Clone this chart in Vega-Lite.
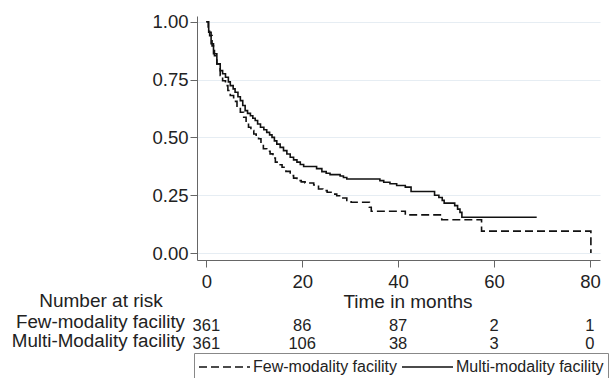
{
  "$schema": "https://vega.github.io/schema/vega-lite/v6.json",
  "width": 403,
  "height": 244,
  "autosize": {"type": "none"},
  "padding": {"left": 197, "top": 16, "right": 11, "bottom": 118},
  "background": "white",
  "config": {
    "view": {"stroke": null},
    "font": "Liberation Sans",
    "text": {"font": "Liberation Sans", "color": "#222"}
  },
  "datasets": {
    "km": [
      {"group": "Multi-modality facility", "t": 0, "s": 1},
      {"group": "Multi-modality facility", "t": 0.5, "s": 0.955},
      {"group": "Multi-modality facility", "t": 1.0, "s": 0.905},
      {"group": "Multi-modality facility", "t": 1.5, "s": 0.862},
      {"group": "Multi-modality facility", "t": 2.2, "s": 0.818},
      {"group": "Multi-modality facility", "t": 2.9, "s": 0.789},
      {"group": "Multi-modality facility", "t": 3.4, "s": 0.775},
      {"group": "Multi-modality facility", "t": 4.0, "s": 0.76},
      {"group": "Multi-modality facility", "t": 4.6, "s": 0.74},
      {"group": "Multi-modality facility", "t": 5.0, "s": 0.724},
      {"group": "Multi-modality facility", "t": 5.6, "s": 0.71},
      {"group": "Multi-modality facility", "t": 6.0, "s": 0.695},
      {"group": "Multi-modality facility", "t": 6.6, "s": 0.676},
      {"group": "Multi-modality facility", "t": 7.1, "s": 0.659},
      {"group": "Multi-modality facility", "t": 7.6, "s": 0.638},
      {"group": "Multi-modality facility", "t": 8.1, "s": 0.616},
      {"group": "Multi-modality facility", "t": 8.6, "s": 0.604},
      {"group": "Multi-modality facility", "t": 9.2, "s": 0.594},
      {"group": "Multi-modality facility", "t": 9.7, "s": 0.583},
      {"group": "Multi-modality facility", "t": 10.2, "s": 0.573},
      {"group": "Multi-modality facility", "t": 10.7, "s": 0.558},
      {"group": "Multi-modality facility", "t": 11.3, "s": 0.544},
      {"group": "Multi-modality facility", "t": 12.0, "s": 0.533},
      {"group": "Multi-modality facility", "t": 12.6, "s": 0.522},
      {"group": "Multi-modality facility", "t": 13.2, "s": 0.511},
      {"group": "Multi-modality facility", "t": 13.7, "s": 0.5},
      {"group": "Multi-modality facility", "t": 14.2, "s": 0.485},
      {"group": "Multi-modality facility", "t": 14.7, "s": 0.471},
      {"group": "Multi-modality facility", "t": 15.4, "s": 0.457},
      {"group": "Multi-modality facility", "t": 16.1, "s": 0.443},
      {"group": "Multi-modality facility", "t": 16.8, "s": 0.428},
      {"group": "Multi-modality facility", "t": 17.5, "s": 0.414},
      {"group": "Multi-modality facility", "t": 18.2, "s": 0.403},
      {"group": "Multi-modality facility", "t": 18.9, "s": 0.393},
      {"group": "Multi-modality facility", "t": 19.6, "s": 0.383},
      {"group": "Multi-modality facility", "t": 20.3, "s": 0.374},
      {"group": "Multi-modality facility", "t": 23.0, "s": 0.365},
      {"group": "Multi-modality facility", "t": 24.1, "s": 0.352},
      {"group": "Multi-modality facility", "t": 25.0, "s": 0.345},
      {"group": "Multi-modality facility", "t": 25.8, "s": 0.339},
      {"group": "Multi-modality facility", "t": 27.9, "s": 0.333},
      {"group": "Multi-modality facility", "t": 28.6, "s": 0.327},
      {"group": "Multi-modality facility", "t": 29.3, "s": 0.32},
      {"group": "Multi-modality facility", "t": 36.2, "s": 0.313},
      {"group": "Multi-modality facility", "t": 37.0, "s": 0.306},
      {"group": "Multi-modality facility", "t": 38.3, "s": 0.3},
      {"group": "Multi-modality facility", "t": 39.7, "s": 0.292},
      {"group": "Multi-modality facility", "t": 41.5, "s": 0.285},
      {"group": "Multi-modality facility", "t": 42.7, "s": 0.266},
      {"group": "Multi-modality facility", "t": 47.6, "s": 0.25},
      {"group": "Multi-modality facility", "t": 48.5, "s": 0.24},
      {"group": "Multi-modality facility", "t": 49.2, "s": 0.228},
      {"group": "Multi-modality facility", "t": 49.6, "s": 0.216},
      {"group": "Multi-modality facility", "t": 51.8, "s": 0.205},
      {"group": "Multi-modality facility", "t": 52.4, "s": 0.19},
      {"group": "Multi-modality facility", "t": 52.9, "s": 0.176},
      {"group": "Multi-modality facility", "t": 53.3, "s": 0.155},
      {"group": "Multi-modality facility", "t": 68.9, "s": 0.155},
      {"group": "Few-modality facility", "t": 0, "s": 1},
      {"group": "Few-modality facility", "t": 0.4, "s": 0.965},
      {"group": "Few-modality facility", "t": 0.7, "s": 0.94},
      {"group": "Few-modality facility", "t": 1.2, "s": 0.896},
      {"group": "Few-modality facility", "t": 1.7, "s": 0.853},
      {"group": "Few-modality facility", "t": 2.2, "s": 0.818},
      {"group": "Few-modality facility", "t": 2.9, "s": 0.768},
      {"group": "Few-modality facility", "t": 3.4, "s": 0.745},
      {"group": "Few-modality facility", "t": 4.0, "s": 0.724},
      {"group": "Few-modality facility", "t": 4.5, "s": 0.703},
      {"group": "Few-modality facility", "t": 5.0, "s": 0.681},
      {"group": "Few-modality facility", "t": 5.7, "s": 0.656},
      {"group": "Few-modality facility", "t": 6.4, "s": 0.631},
      {"group": "Few-modality facility", "t": 7.1, "s": 0.609},
      {"group": "Few-modality facility", "t": 7.8, "s": 0.587},
      {"group": "Few-modality facility", "t": 8.3, "s": 0.565},
      {"group": "Few-modality facility", "t": 8.8, "s": 0.544},
      {"group": "Few-modality facility", "t": 9.3, "s": 0.53},
      {"group": "Few-modality facility", "t": 9.9, "s": 0.515},
      {"group": "Few-modality facility", "t": 10.4, "s": 0.505},
      {"group": "Few-modality facility", "t": 10.9, "s": 0.494},
      {"group": "Few-modality facility", "t": 11.4, "s": 0.472},
      {"group": "Few-modality facility", "t": 11.9, "s": 0.451},
      {"group": "Few-modality facility", "t": 12.6, "s": 0.44},
      {"group": "Few-modality facility", "t": 13.3, "s": 0.429},
      {"group": "Few-modality facility", "t": 13.9, "s": 0.411},
      {"group": "Few-modality facility", "t": 14.4, "s": 0.393},
      {"group": "Few-modality facility", "t": 15.1, "s": 0.382},
      {"group": "Few-modality facility", "t": 15.8, "s": 0.371},
      {"group": "Few-modality facility", "t": 16.6, "s": 0.353},
      {"group": "Few-modality facility", "t": 17.5, "s": 0.335},
      {"group": "Few-modality facility", "t": 18.2, "s": 0.324},
      {"group": "Few-modality facility", "t": 18.9, "s": 0.313},
      {"group": "Few-modality facility", "t": 19.8, "s": 0.308},
      {"group": "Few-modality facility", "t": 20.6, "s": 0.303},
      {"group": "Few-modality facility", "t": 22.4, "s": 0.294},
      {"group": "Few-modality facility", "t": 23.4, "s": 0.277},
      {"group": "Few-modality facility", "t": 24.3, "s": 0.27},
      {"group": "Few-modality facility", "t": 25.2, "s": 0.263},
      {"group": "Few-modality facility", "t": 26.2, "s": 0.255},
      {"group": "Few-modality facility", "t": 27.2, "s": 0.248},
      {"group": "Few-modality facility", "t": 28.3, "s": 0.238},
      {"group": "Few-modality facility", "t": 29.3, "s": 0.227},
      {"group": "Few-modality facility", "t": 30.2, "s": 0.22},
      {"group": "Few-modality facility", "t": 34.0, "s": 0.198},
      {"group": "Few-modality facility", "t": 34.4, "s": 0.181},
      {"group": "Few-modality facility", "t": 41.5, "s": 0.165},
      {"group": "Few-modality facility", "t": 49.1, "s": 0.144},
      {"group": "Few-modality facility", "t": 57.4, "s": 0.095},
      {"group": "Few-modality facility", "t": 80.2, "s": 0.0}
    ],
    "risk": [
      {"group": "Few-modality facility", "t": 0, "n": 361},
      {"group": "Few-modality facility", "t": 20, "n": 86},
      {"group": "Few-modality facility", "t": 40, "n": 87},
      {"group": "Few-modality facility", "t": 60, "n": 2},
      {"group": "Few-modality facility", "t": 80, "n": 1},
      {"group": "Multi-Modality facility", "t": 0, "n": 361},
      {"group": "Multi-Modality facility", "t": 20, "n": 106},
      {"group": "Multi-Modality facility", "t": 40, "n": 38},
      {"group": "Multi-Modality facility", "t": 60, "n": 3},
      {"group": "Multi-Modality facility", "t": 80, "n": 0}
    ]
  },
  "layer": [
    {
      "data": {"name": "km"},
      "mark": {"type": "line", "interpolate": "step-after", "color": "#111", "strokeWidth": 1.6},
      "encoding": {
        "x": {
          "field": "t", "type": "quantitative", "title": "Time in months",
          "scale": {"domain": [-1.94, 82.1], "nice": false, "zero": false},
          "axis": {
            "values": [0, 20, 40, 60, 80], "format": "d", "grid": false,
            "domainColor": "#666", "tickColor": "#666", "tickSize": 7,
            "labelFont": "Liberation Sans", "labelFontSize": 18.5, "labelColor": "#222",
            "labelBaseline": "alphabetic", "labelPadding": 20,
            "titleFont": "Liberation Sans", "titleFontSize": 19, "titleFontWeight": "normal", "titleColor": "#222",
            "titleX": 210.5, "titleY": 47, "titleBaseline": "alphabetic", "titleAlign": "center"
          }
        },
        "y": {
          "field": "s", "type": "quantitative", "title": null,
          "scale": {"domain": [-0.03, 1.025], "nice": false, "zero": false},
          "axis": {
            "values": [0, 0.25, 0.5, 0.75, 1], "format": ".2f", "grid": true,
            "gridColor": "#e6edf3", "gridWidth": 1,
            "domainColor": "#666", "tickColor": "#666", "tickSize": 7,
            "labelFont": "Liberation Sans", "labelFontSize": 18.5, "labelColor": "#222",
            "labelPadding": 2
          }
        },
        "strokeDash": {
          "field": "group", "type": "nominal",
          "scale": {"domain": ["Few-modality facility", "Multi-modality facility"], "range": [[8, 4], [1, 0]]},
          "legend": {
            "orient": "none", "legendX": -3, "legendY": 337, "direction": "horizontal", "columns": 2,
            "title": null, "symbolType": "stroke", "symbolSize": 2601, "symbolStrokeWidth": 1.6,
            "symbolStrokeColor": "#111", "clipHeight": 20,
            "labelFont": "Liberation Sans", "labelFontSize": 16, "labelColor": "#222", "labelOffset": 2, "labelLimit": 300,
            "columnPadding": 3, "padding": 4, "strokeColor": "#888"
          }
        }
      }
    },
    {
      "data": {"name": "risk"},
      "transform": [{"filter": "datum.group === 'Few-modality facility'"}],
      "mark": {"type": "text", "fontSize": 16.5, "align": "center", "baseline": "alphabetic"},
      "encoding": {
        "x": {"field": "t", "type": "quantitative", "title": "Time in months"},
        "y": {"datum": -0.335, "title": null},
        "text": {"field": "n", "type": "quantitative"}
      }
    },
    {
      "data": {"name": "risk"},
      "transform": [{"filter": "datum.group === 'Multi-Modality facility'"}],
      "mark": {"type": "text", "fontSize": 16.5, "align": "center", "baseline": "alphabetic"},
      "encoding": {
        "x": {"field": "t", "type": "quantitative", "title": "Time in months"},
        "y": {"datum": -0.4135, "title": null},
        "text": {"field": "n", "type": "quantitative"}
      }
    },
    {
      "data": {"values": [{"label": "Few-modality facility"}]},
      "mark": {"type": "text", "fontSize": 18.8, "align": "right", "baseline": "alphabetic"},
      "encoding": {
        "x": {"datum": -4.44, "title": "Time in months"},
        "y": {"datum": -0.322, "title": null},
        "text": {"field": "label", "type": "nominal"}
      }
    },
    {
      "data": {"values": [{"label": "Multi-Modality facility"}]},
      "mark": {"type": "text", "fontSize": 18.8, "align": "right", "baseline": "alphabetic"},
      "encoding": {
        "x": {"datum": -4.44, "title": "Time in months"},
        "y": {"datum": -0.4055, "title": null},
        "text": {"field": "label", "type": "nominal"}
      }
    },
    {
      "data": {"values": [{"label": "Number at risk"}]},
      "mark": {"type": "text", "fontSize": 19, "align": "center", "baseline": "alphabetic"},
      "encoding": {
        "x": {"datum": -21.96, "title": "Time in months"},
        "y": {"datum": -0.2333, "title": null},
        "text": {"field": "label", "type": "nominal"}
      }
    }
  ]
}
